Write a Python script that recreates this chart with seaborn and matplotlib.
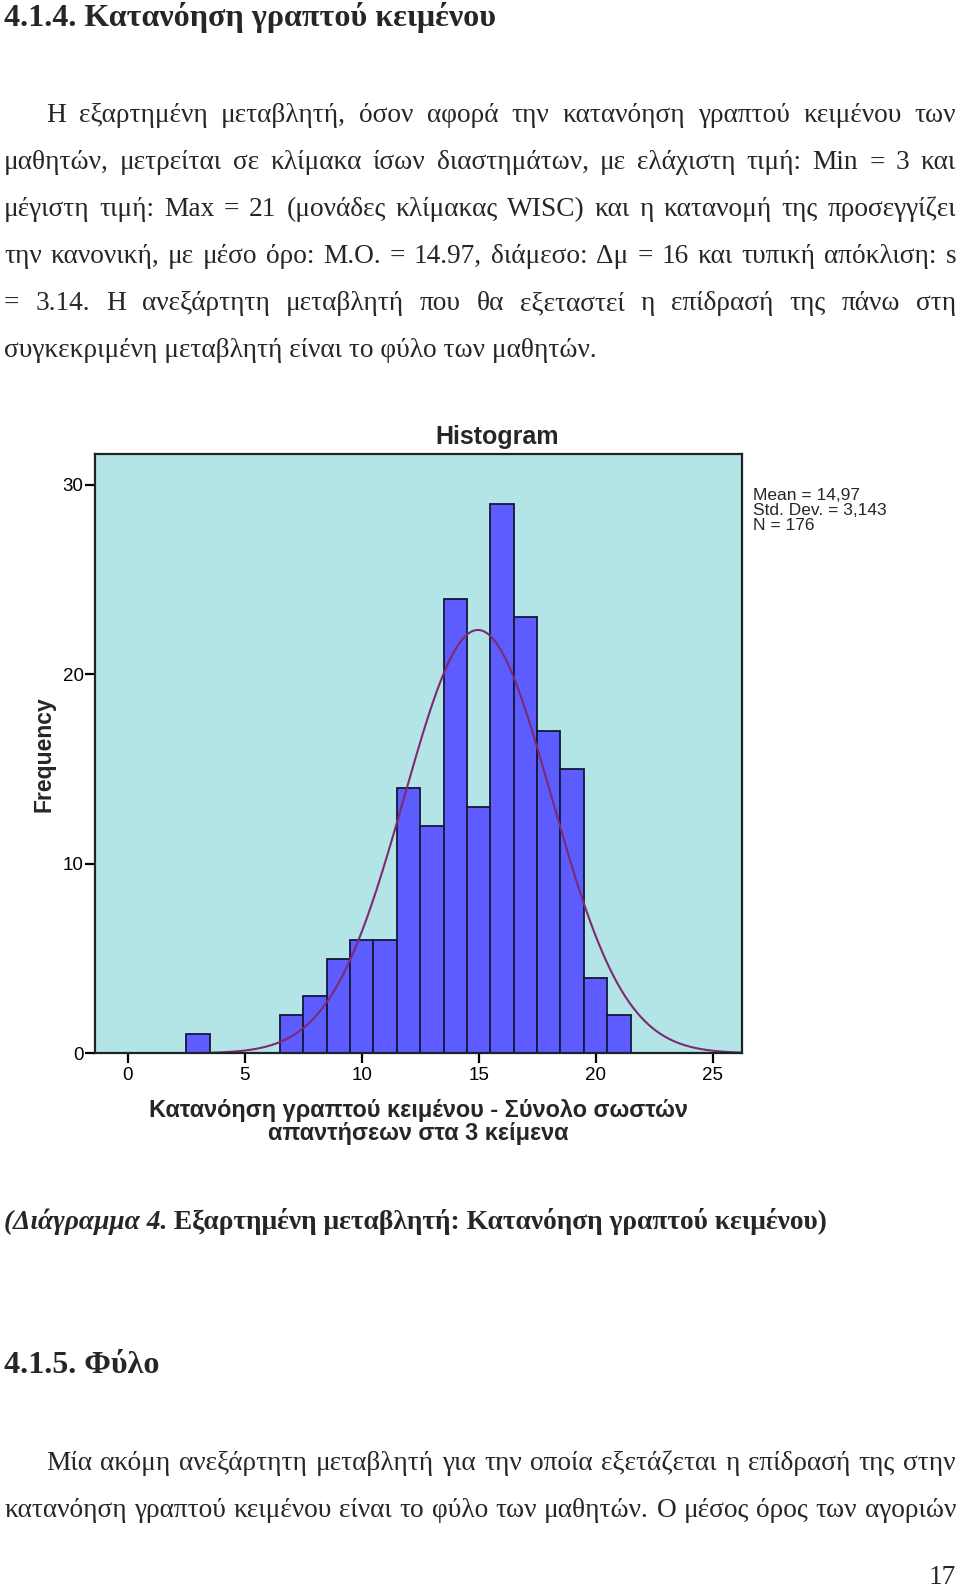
import matplotlib
matplotlib.use("Agg")

import matplotlib.pyplot as plt
import numpy as np
import seaborn as sns

# -----------------------------------------------------------------------------
# Data
# -----------------------------------------------------------------------------
scores = [3, 7, 8, 9, 10, 11, 12, 13, 14, 15, 16, 17, 18, 19, 20, 21]
counts = [1, 2, 3, 5, 6, 6, 14, 12, 24, 13, 29, 23, 17, 15, 4, 2]
x_ticks = [0, 5, 10, 15, 20, 25]
y_ticks = [0, 10, 20, 30]
mean_val = 14.97
sd_val = 3.143
n_total = 176

chart_title = "Histogram"
y_label = "Frequency"
x_label = "Κατανόηση γραπτού κειμένου - Σύνολο σωστών\nαπαντήσεων στα 3 κείμενα"
stats_text = "Mean = 14,97\nStd. Dev. = 3,143\nN = 176"

heading_1 = "4.1.4. Κατανόηση γραπτού κειμένου"
para_1 = [
    "Η εξαρτημένη μεταβλητή, όσον αφορά την κατανόηση γραπτού κειμένου των",
    "μαθητών, μετρείται σε κλίμακα ίσων διαστημάτων, με ελάχιστη τιμή: Min = 3 και",
    "μέγιστη τιμή: Max = 21 (μονάδες κλίμακας WISC) και η κατανομή της προσεγγίζει",
    "την κανονική, με μέσο όρο: Μ.Ο. = 14.97, διάμεσο: Δμ = 16 και τυπική απόκλιση: s",
    "= 3.14. Η ανεξάρτητη μεταβλητή που θα εξεταστεί η επίδρασή της πάνω στη",
    "συγκεκριμένη μεταβλητή είναι το φύλο των μαθητών.",
]
caption_italic = "(Διάγραμμα 4."
caption_rest = " Εξαρτημένη μεταβλητή: Κατανόηση γραπτού κειμένου)"
heading_2 = "4.1.5. Φύλο"
para_2 = [
    "Μία ακόμη ανεξάρτητη μεταβλητή για την οποία εξετάζεται η επίδρασή της στην",
    "κατανόηση γραπτού κειμένου είναι το φύλο των μαθητών. Ο μέσος όρος των αγοριών",
]
page_number = "17"

# -----------------------------------------------------------------------------
# Page setup (pixel coordinates, 100 dpi)
# -----------------------------------------------------------------------------
W, H = 960, 1590
sns.set_style("ticks")
plt.rcParams["font.family"] = ["Liberation Sans", "DejaVu Sans"]

fig = plt.figure(figsize=(W / 100, H / 100), dpi=100)
fig.patch.set_facecolor("white")
renderer = fig.canvas.get_renderer()

SERIF = ["Liberation Serif", "DejaVu Serif"]


def px_width(s, size, **kw):
    t = fig.text(0, 0, s, fontsize=size, **kw)
    w = t.get_window_extent(renderer).width
    t.remove()
    return w


def fit_size(s, target, **kw):
    return 20 * target / px_width(s, 20, **kw)


def put(x, y, s, **kw):
    return fig.text(x / W, 1 - y / H, s, va="baseline", **kw)


def justify(line, y, x0, x1, size, **kw):
    words = line.split()
    widths = [px_width(w, size, **kw) for w in words]
    gap = (x1 - x0 - sum(widths)) / (len(words) - 1)
    x = x0
    for word, wd in zip(words, widths):
        put(x, y, word, fontsize=size, **kw)
        x += wd + gap


LEFT, RIGHT, INDENT = 4, 956, 46
body_size = fit_size(para_1[-1], 593, family=SERIF)
head_size = fit_size(heading_1, 491, family=SERIF, weight="bold")

# heading + first paragraph
put(LEFT, 26, heading_1, fontsize=head_size, family=SERIF, weight="bold")
line_gap = 46.9
for i, line in enumerate(para_1):
    y = 122.5 + i * line_gap
    x0 = INDENT if i == 0 else LEFT
    if i == len(para_1) - 1:
        put(x0, y, line, fontsize=body_size, family=SERIF)
    else:
        justify(line, y, x0, RIGHT, body_size, family=SERIF)

# -----------------------------------------------------------------------------
# Histogram
# -----------------------------------------------------------------------------
ax_left, ax_right, ax_top, ax_bottom = 95, 742, 454.5, 1053.3
ax = fig.add_axes([ax_left / W, 1 - ax_bottom / H,
                   (ax_right - ax_left) / W, (ax_bottom - ax_top) / H])
ax.set_facecolor("#b3e5e7")

sns.histplot(x=scores, weights=counts, discrete=True, ax=ax,
             color="#5c5cff", edgecolor="#15173a", linewidth=1.3, alpha=1)

xlo, xhi = -1.4, 26.26
curve_x = np.linspace(xlo, xhi, 500)
curve_y = n_total * np.exp(-0.5 * ((curve_x - mean_val) / sd_val) ** 2) / (sd_val * np.sqrt(2 * np.pi))
sns.lineplot(x=curve_x, y=curve_y, ax=ax, color="#7d2a72", linewidth=1.5)

ax.set_xlim(xlo, xhi)
ax.set_ylim(0, 31.6)
ax.set_xticks(x_ticks)
ax.set_yticks(y_ticks)
ax.tick_params(direction="out", length=7, width=1.6, colors="#000000",
               labelsize=13.5, labelcolor="black")
ax.tick_params(axis="y", pad=1.2)
ax.tick_params(axis="x", pad=3)
for side in ["left", "right", "top", "bottom"]:
    ax.spines[side].set_visible(True)
    ax.spines[side].set_color("#1c2428")
    ax.spines[side].set_linewidth(1.6)

xl_size = fit_size(x_label.split("\n")[0], 538, weight="bold")
ax.set_xlabel(x_label, fontsize=xl_size, fontweight="bold", labelpad=11,
              linespacing=0.98)
ax.set_ylabel(y_label, fontsize=16.5, fontweight="bold", labelpad=5)

put(497, 444, chart_title, fontsize=18, weight="bold", ha="center")
fig.text(753 / W, 1 - 488 / H, stats_text, fontsize=12.5, va="top",
         ha="left", linespacing=0.98)

# -----------------------------------------------------------------------------
# Caption, next section, page number
# -----------------------------------------------------------------------------
cap_size = 20 * 826 / (px_width(caption_italic, 20, family=SERIF, weight="bold", style="italic")
                       + px_width(caption_rest, 20, family=SERIF, weight="bold"))
t = put(LEFT, 1229, caption_italic, fontsize=cap_size, family=SERIF,
        weight="bold", style="italic")
cx = LEFT + t.get_window_extent(renderer).width
put(cx, 1229, caption_rest, fontsize=cap_size, family=SERIF, weight="bold")

put(LEFT, 1373, heading_2, fontsize=head_size, family=SERIF, weight="bold")
for i, line in enumerate(para_2):
    y = 1470 + i * 47
    x0 = INDENT if i == 0 else LEFT
    justify(line, y, x0, RIGHT, body_size, family=SERIF)

put(RIGHT, 1584, page_number, fontsize=body_size, family=SERIF, ha="right")

fig.savefig("out.png", dpi=100)
